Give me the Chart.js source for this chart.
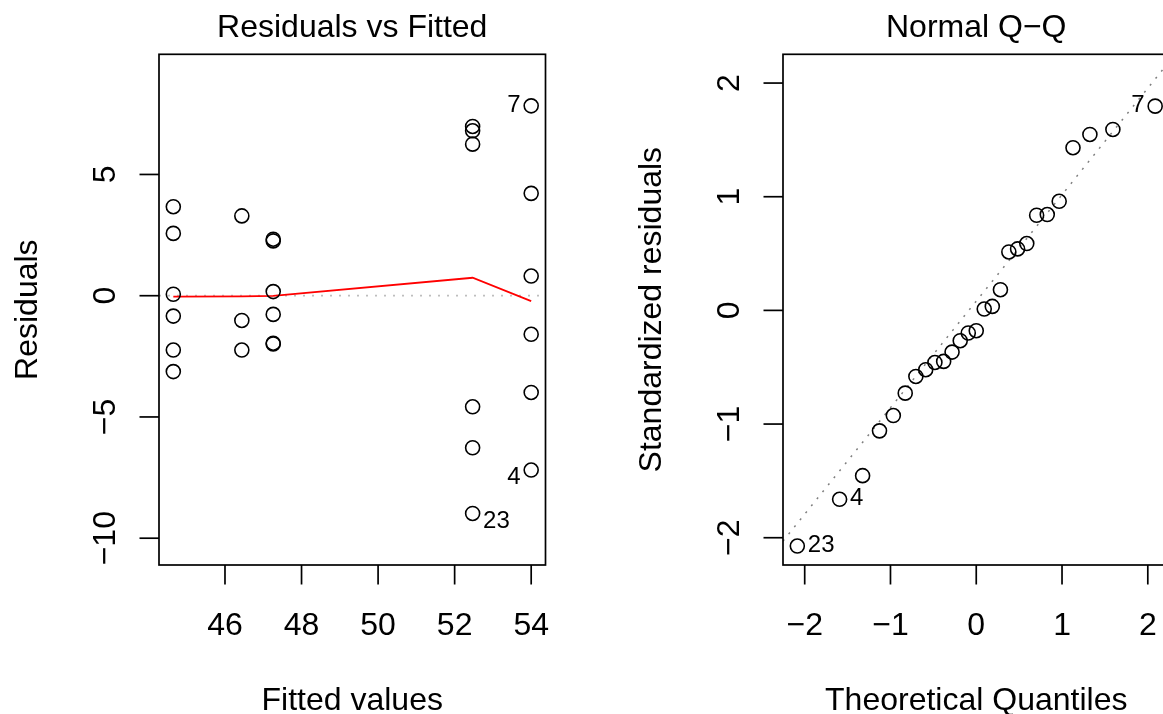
<!DOCTYPE html>
<html>
<head>
<meta charset="utf-8">
<script src="https://cdn.jsdelivr.net/npm/chart.js@4"></script>
<style>
html, body { margin: 0; padding: 0; background: #fff; overflow: hidden; }
#wrap { position: relative; width: 1163px; height: 714px; overflow: hidden; }
.panel { position: absolute; top: 0; width: 624px; height: 714px; }
</style>
</head>
<body>
<div id="wrap">
    <div class="panel" style="left:0"><canvas id="residChart" width="624" height="714"></canvas></div>
    <div class="panel" style="left:624px"><canvas id="qqChart" width="624" height="714"></canvas></div>
</div>
<script>
// Residuals vs Fitted - fitted values (5 groups) and residuals in each group
const fittedGroups = [44.65, 46.44, 47.26, 52.47, 54.0];
const residualsByGroup = [
    [3.67, 2.57, 0.06, -0.84, -2.24, -3.13],
    [3.29, -1.02, -2.24],
    [2.33, 2.26, 0.17, -0.77, -1.96, -1.99],
    [6.98, 6.80, 6.25, -4.58, -6.27, -8.98],
    [7.83, 4.22, 0.81, -1.59, -3.99, -7.19]
];
const smootherValues = [-0.04, -0.03, -0.01, 0.74, -0.22];
const fittedTicks = [46, 48, 50, 52, 54];
const residTicks = [-10, -5, 0, 5];
const residIdLabels = ['7', '4', '23'];
const residIdFitted = [54.0, 54.0, 52.47];
const residIdValues = [7.83, -7.19, -8.98];

// Normal Q-Q
const theoQuantiles = [-2.086, -1.593, -1.325, -1.128, -0.967, -0.828, -0.704, -0.589, -0.482,
    -0.380, -0.282, -0.187, -0.093, 0, 0.093, 0.187, 0.282, 0.380, 0.482, 0.589, 0.704, 0.828,
    0.967, 1.128, 1.325, 1.593, 2.086];
const stdResiduals = [-2.073, -1.662, -1.454, -1.060, -0.925, -0.728, -0.581, -0.522, -0.458,
    -0.449, -0.367, -0.267, -0.199, -0.179, 0.012, 0.035, 0.182, 0.514, 0.541, 0.588, 0.837,
    0.843, 0.960, 1.431, 1.548, 1.592, 1.797];
const qqTicks = [-2, -1, 0, 1, 2];
const qqYTicks = [-2, -1, 0, 1, 2];
const qqIdLabels = ['7', '4', '23'];
const qqIdTheo = [2.086, -1.593, -2.086];
const qqIdValues = [1.797, -1.662, -2.073];
const qqLineIntercept = 0.081;
const qqLineSlope = 0.937;

const FONT = '"Liberation Sans", Arial, Helvetica, sans-serif';

function fmt(v) {
    return v < 0 ? '\u2212' + Math.abs(v) : String(v);
}

// draws the R style frame: box, ticks, labels, titles, point ids
const rFrame = {
    id: 'rFrame',
    afterDatasetsDraw(chart, args, o) {
        const { ctx, chartArea: a, scales: { x, y } } = chart;
        ctx.save();
        ctx.strokeStyle = '#000';
        ctx.fillStyle = '#000';
        ctx.lineWidth = 1.7;
        ctx.strokeRect(a.left, a.top, a.right - a.left, a.bottom - a.top);

        ctx.font = '32px ' + FONT;
        ctx.textBaseline = 'alphabetic';
        ctx.textAlign = 'center';

        // x axis
        o.xTicks.forEach(v => {
            const px = x.getPixelForValue(v);
            ctx.beginPath();
            ctx.moveTo(px, a.bottom);
            ctx.lineTo(px, a.bottom + 19.5);
            ctx.stroke();
            ctx.fillText(fmt(v), px, a.bottom + 70);
        });
        // y axis
        o.yTicks.forEach(v => {
            const py = y.getPixelForValue(v);
            ctx.beginPath();
            ctx.moveTo(a.left, py);
            ctx.lineTo(a.left - 19.5, py);
            ctx.stroke();
            ctx.save();
            ctx.translate(a.left - 44, py);
            ctx.rotate(-Math.PI / 2);
            ctx.fillText(fmt(v), 0, 0);
            ctx.restore();
        });

        const cx = (a.left + a.right) / 2;
        const cy = (a.top + a.bottom) / 2;
        ctx.fillText(o.title, cx, a.top - 17);
        ctx.fillText(o.xLabel, cx, a.bottom + 145);
        ctx.save();
        ctx.translate(a.left - 121.7, cy);
        ctx.rotate(-Math.PI / 2);
        ctx.fillText(o.yLabel, 0, 0);
        ctx.restore();

        // point ids, placed left or right of the point like R's text.id
        ctx.font = '24px ' + FONT;
        const idMid = (Math.min(...o.ids.xs) + Math.max(...o.ids.xs)) / 2;
        o.ids.labels.forEach((lab, i) => {
            const px = x.getPixelForValue(o.ids.xs[i]);
            let py = y.getPixelForValue(o.ids.ys[i]) + 5.7;
            if (o.shiftNegative && o.ids.ys[i] < 0) py += 8.5;
            if (o.ids.xs[i] > idMid) {
                ctx.textAlign = 'right';
                ctx.fillText(lab, px - 10.5, py);
            } else {
                ctx.textAlign = 'left';
                ctx.fillText(lab, px + 10.5, py);
            }
        });
        ctx.restore();
    }
};

const circleStyle = {
    showLine: false,
    pointRadius: 7,
    pointBorderWidth: 1.6,
    pointBorderColor: '#000',
    pointBackgroundColor: 'rgba(0,0,0,0)'
};

function baseOptions(xMin, xMax, yMin, yMax, frame) {
    return {
        responsive: false,
        animation: false,
        events: [],
        layout: { padding: { left: 159, right: 78.5, top: 54.3, bottom: 149 } },
        scales: {
            x: { type: 'linear', min: xMin, max: xMax, display: false },
            y: { type: 'linear', min: yMin, max: yMax, display: false }
        },
        plugins: {
            legend: { display: false },
            tooltip: { enabled: false },
            rFrame: frame
        }
    };
}

// Residuals vs Fitted
const residX = [44.276, 54.374];
const residPoints = [];
fittedGroups.forEach((f, i) => {
    residualsByGroup[i].forEach(r => residPoints.push({ x: f, y: r }));
});
new Chart(document.getElementById('residChart').getContext('2d'), {
    type: 'scatter',
    data: {
        datasets: [{
            data: residPoints,
            ...circleStyle
        }, {
            data: fittedGroups.map((f, i) => ({ x: f, y: smootherValues[i] })),
            showLine: true,
            borderColor: '#ff0000',
            borderWidth: 1.8,
            pointRadius: 0,
            tension: 0
        }, {
            data: residX.map(v => ({ x: v, y: 0 })),
            showLine: true,
            borderColor: '#bebebe',
            borderWidth: 1.7,
            borderDash: [2, 7],
            pointRadius: 0
        }]
    },
    options: baseOptions(residX[0], residX[1], -11.105, 9.955, {
        title: 'Residuals vs Fitted',
        xLabel: 'Fitted values',
        yLabel: 'Residuals',
        xTicks: fittedTicks,
        yTicks: residTicks,
        shiftNegative: true,
        ids: { labels: residIdLabels, xs: residIdFitted, ys: residIdValues }
    }),
    plugins: [rFrame]
});

// Normal Q-Q
const qqX = [-2.253, 2.253];
new Chart(document.getElementById('qqChart').getContext('2d'), {
    type: 'scatter',
    data: {
        datasets: [{
            data: theoQuantiles.map((q, i) => ({ x: q, y: stdResiduals[i] })),
            ...circleStyle
        }, {
            data: qqX.map(v => ({ x: v, y: qqLineIntercept + qqLineSlope * v })),
            showLine: true,
            borderColor: '#7f7f7f',
            borderWidth: 1.5,
            borderDash: [2, 7],
            pointRadius: 0
        }]
    },
    options: baseOptions(qqX[0], qqX[1], -2.24, 2.253, {
        title: 'Normal Q\u2212Q',
        xLabel: 'Theoretical Quantiles',
        yLabel: 'Standardized residuals',
        xTicks: qqTicks,
        yTicks: qqYTicks,
        shiftNegative: false,
        ids: { labels: qqIdLabels, xs: qqIdTheo, ys: qqIdValues }
    }),
    plugins: [rFrame]
});
</script>
</body>
</html>
